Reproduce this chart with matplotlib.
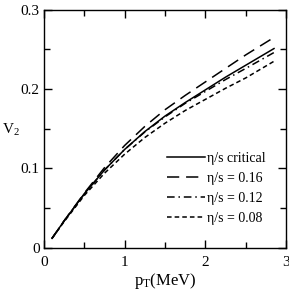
import matplotlib
matplotlib.use("Agg")
import matplotlib.pyplot as plt
from matplotlib.ticker import MultipleLocator, FuncFormatter

pt = [0.1, 0.25, 0.5, 0.75, 1.0, 1.25, 1.5, 1.75, 2.0, 2.25, 2.5, 2.85]
v2_critical = [0.012, 0.034, 0.068, 0.098, 0.124, 0.1465, 0.166, 0.183, 0.199, 0.215, 0.230, 0.251]
v2_016 = [0.012, 0.034, 0.069, 0.101, 0.129, 0.153, 0.174, 0.192, 0.209, 0.226, 0.243, 0.265]
v2_012 = [0.012, 0.034, 0.068, 0.098, 0.124, 0.146, 0.165, 0.182, 0.197, 0.212, 0.226, 0.246]
v2_008 = [0.012, 0.033, 0.066, 0.094, 0.118, 0.139, 0.157, 0.173, 0.187, 0.201, 0.214, 0.235]
labels = ["η/s critical", "η/s = 0.16", "η/s = 0.12", "η/s = 0.08"]

plt.rcParams['font.family'] = ['Liberation Serif', 'DejaVu Serif']
plt.rcParams['mathtext.fontset'] = 'custom'
plt.rcParams['mathtext.rm'] = 'Liberation Serif'
plt.rcParams['mathtext.it'] = 'Liberation Serif:italic'

fig = plt.figure(figsize=(2.89, 2.92), dpi=100)
ax = fig.add_axes([0.152, 0.151, 0.838, 0.816])

lw = 1.1
ax.plot(pt, v2_critical, color='black', lw=lw, ls='-', label=labels[0])
ax.plot(pt, v2_016, color='black', lw=lw, ls=(0, (8, 4.5)), label=labels[1])
ax.plot(pt, v2_012, color='black', lw=lw, ls=(0, (5, 2.5, 1, 2.5)), label=labels[2])
ax.plot(pt, v2_008, color='black', lw=lw, ls=(0, (3, 2)), label=labels[3])

ax.set_xlim(0, 3)
ax.set_ylim(0, 0.3)
ax.xaxis.set_major_locator(MultipleLocator(1))
ax.xaxis.set_minor_locator(MultipleLocator(0.5))
ax.yaxis.set_major_locator(MultipleLocator(0.1))
ax.yaxis.set_minor_locator(MultipleLocator(0.05))
ax.xaxis.set_major_formatter(FuncFormatter(lambda v, p: f"{v:g}"))
ax.yaxis.set_major_formatter(FuncFormatter(lambda v, p: f"{v:g}"))
ax.tick_params(which='both', direction='in', top=True, right=True, width=1.0, labelsize=11)
ax.tick_params(axis='x', pad=5.5)
ax.tick_params(axis='y', pad=3)
ax.tick_params(which='major', length=6)
ax.tick_params(which='minor', length=4)
for s in ax.spines.values():
    s.set_linewidth(1.0)

ax.set_xlabel(r"p$_\mathregular{T}$(MeV)", fontsize=12, labelpad=2)
ax.set_ylabel(r"V$_\mathregular{2}$", fontsize=11, rotation=0)
ax.yaxis.set_label_coords(-0.135, 0.46)

leg = ax.legend(loc='center', bbox_to_anchor=(0.711, 0.25), frameon=False, fontsize=10,
                handlelength=2.75, handletextpad=0.15, labelspacing=0.5, borderaxespad=0.0,
                borderpad=0.0)

fig.savefig("out.png", dpi=100)
